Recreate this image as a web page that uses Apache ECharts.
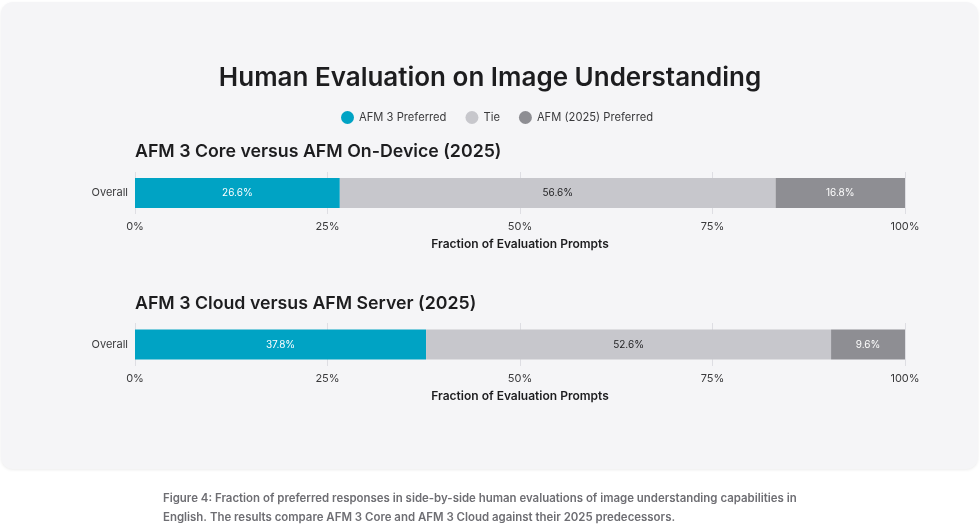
<!DOCTYPE html>
<html>
<head>
<meta charset="utf-8">
<script src="https://cdn.jsdelivr.net/npm/echarts@6/dist/echarts.min.js"></script>
<style>
  html, body { margin: 0; padding: 0; background: #fff; }
  #chart { width: 980px; height: 524px; }
</style>
</head>
<body>
<div id="chart"></div>
<script>
// data
const categories = ['Overall'];
const seriesNames = ['AFM 3 Preferred', 'Tie', 'AFM (2025) Preferred'];
const coreAfm3 = [26.6];
const coreTie = [56.6];
const coreOld = [16.8];
const cloudAfm3 = [37.8];
const cloudTie = [52.6];
const cloudOld = [9.6];
const panelTitles = ['AFM 3 Core versus AFM On-Device (2025)', 'AFM 3 Cloud versus AFM Server (2025)'];
const ticks = [0, 25, 50, 75, 100];

const colors = ['#00a3c4', '#c7c7cc', '#8e8e93'];
const labelColors = ['#ffffff', '#1d1d1f', '#ffffff'];
const font = 'Inter, "Noto Sans", sans-serif';

const chart = echarts.init(document.getElementById('chart'));

function xAxisFor(gridIndex) {
  return {
    gridIndex: gridIndex,
    type: 'value',
    min: 0,
    max: 100,
    interval: 25,
    axisLine: { show: false },
    axisTick: { show: false },
    splitLine: { show: true, lineStyle: { color: '#dedee3', width: 1 } },
    axisLabel: {
      formatter: v => ticks.indexOf(v) >= 0 ? v + '%' : '',
      color: '#3a3a3c', fontSize: 11, fontFamily: font, margin: 7
    },
    name: 'Fraction of Evaluation Prompts',
    nameLocation: 'middle',
    nameGap: 24,
    nameTextStyle: { color: '#1d1d1f', fontSize: 12, fontWeight: 600, fontFamily: font }
  };
}

function yAxisFor(gridIndex) {
  return {
    gridIndex: gridIndex,
    type: 'category',
    data: categories,
    axisLine: { show: false },
    axisTick: { show: false },
    axisLabel: { color: '#3a3a3c', fontSize: 11, fontFamily: font, margin: 7 }
  };
}

function barSeries(idx, data, gridIndex) {
  return {
    name: seriesNames[idx],
    type: 'bar',
    stack: 'g' + gridIndex,
    xAxisIndex: gridIndex,
    yAxisIndex: gridIndex,
    barWidth: 30,
    data: data,
    itemStyle: { color: colors[idx] },
    label: {
      show: true,
      position: 'inside',
      formatter: p => p.value.toFixed(1) + '%',
      color: labelColors[idx],
      fontSize: 10,
      fontFamily: font
    }
  };
}

const option = {
  animation: false,
  color: colors,
  graphic: [
    {
      type: 'rect', z: -10,
      shape: { x: 1, y: 2, width: 977, height: 467, r: 12 },
      style: { fill: '#f5f5f7', shadowBlur: 3, shadowColor: 'rgba(0,0,0,0.08)', shadowOffsetY: 1 }
    },
    {
      type: 'text', left: 135, top: 143,
      style: { text: panelTitles[0], fill: '#1d1d1f', font: '600 17.75px ' + font }
    },
    {
      type: 'text', left: 135, top: 295,
      style: { text: panelTitles[1], fill: '#1d1d1f', font: '600 17.75px ' + font }
    },
    {
      type: 'text', left: 163, top: 489,
      style: {
        text: 'Figure 4: Fraction of preferred responses in side-by-side human evaluations of image understanding capabilities in\nEnglish. The results compare AFM 3 Core and AFM 3 Cloud against their 2025 predecessors.',
        fill: '#6e6e73', font: '600 11.45px ' + font, lineHeight: 19
      }
    }
  ],
  title: {
    text: 'Human Evaluation on Image Understanding',
    left: 'center',
    top: 60,
    textStyle: { color: '#1d1d1f', fontSize: 26, fontWeight: 600, fontFamily: font }
  },
  legend: {
    data: seriesNames,
    left: 336,
    top: 106,
    icon: 'circle',
    itemWidth: 13,
    itemHeight: 13,
    itemGap: 19,
    textStyle: { color: '#3a3a3c', fontSize: 11.2, fontFamily: font }
  },
  grid: [
    { left: 135, width: 770, top: 172, height: 42 },
    { left: 135, width: 770, top: 323, height: 43 }
  ],
  xAxis: [xAxisFor(0), xAxisFor(1)],
  yAxis: [yAxisFor(0), yAxisFor(1)],
  series: [
    barSeries(0, coreAfm3, 0),
    barSeries(1, coreTie, 0),
    barSeries(2, coreOld, 0),
    barSeries(0, cloudAfm3, 1),
    barSeries(1, cloudTie, 1),
    barSeries(2, cloudOld, 1)
  ]
};

chart.setOption(option);
</script>
</body>
</html>
